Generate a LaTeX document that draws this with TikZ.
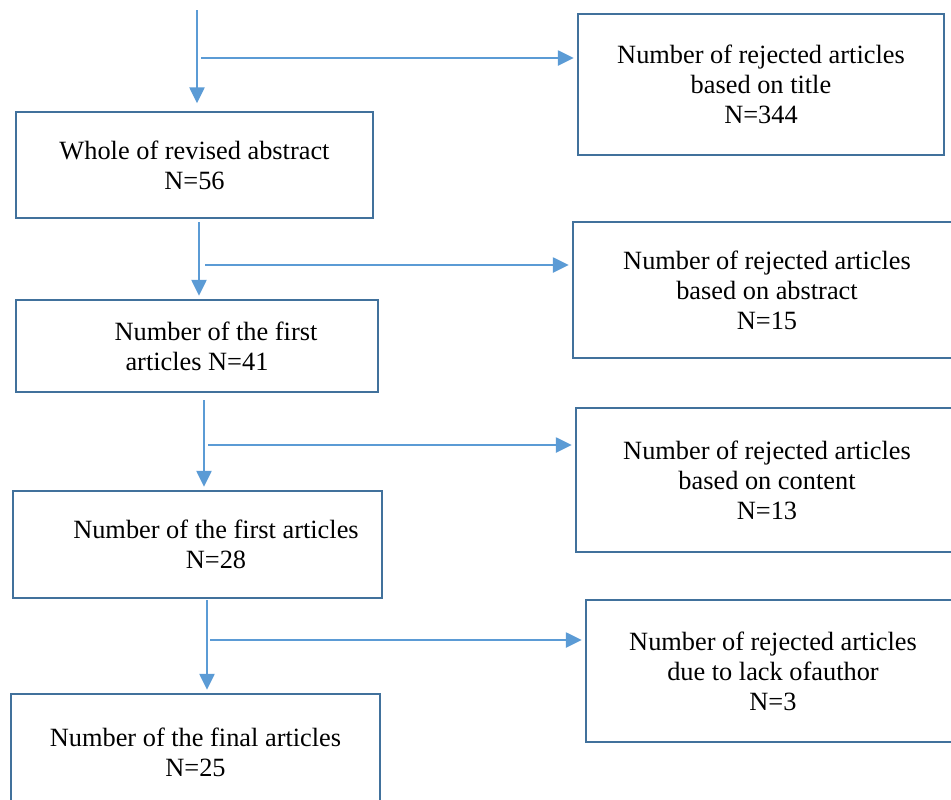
\documentclass[tikz,border=0pt]{standalone}
\usepackage{fontspec}
\setmainfont{Liberation Serif}
\usetikzlibrary{arrows.meta,calc}

\definecolor{arrowblue}{HTML}{5B9BD5}
\definecolor{boxblue}{HTML}{41719C}

\tikzset{
  stagebox/.style={draw=boxblue, line width=1.4pt, align=center, inner sep=0pt,
    font=\fontsize{15}{17}\selectfont},
  flowarr/.style={draw=arrowblue, line width=1.4pt, shorten >=0.06cm,
    -{Triangle[length=0.32cm,width=0.3cm]}}
}

\begin{document}
\begin{tikzpicture}[x=0.02cm,y=-0.02cm]
        \path[use as bounding box, clip] (0,0) rectangle (951,799);
        % left column
        \node[stagebox, minimum width=7.14cm, minimum height=2.12cm] (whole) at (194.5,165)
            {Whole of revised abstract\\N=56};
        \node[stagebox, minimum width=7.24cm, minimum height=1.84cm] (first) at (197,346)
            {\hspace*{0.76cm}Number of the first\\articles N=41};
        \node[stagebox, minimum width=7.38cm, minimum height=2.14cm] (second) at (197.5,544.5)
            {\hspace*{0.74cm}Number of the first articles\\\hspace*{0.74cm}N=28};
        \node[stagebox, minimum width=7.38cm, minimum height=2.32cm] (final) at (195.5,752)
            {Number of the final articles\\N=25};
        % right column
        \node[stagebox, minimum width=7.32cm, minimum height=2.82cm] (rejtitle) at (761,84.5)
            {Number of rejected articles\\based on title\\N=344};
        \node[stagebox, minimum width=7.76cm, minimum height=2.72cm] (rejabstract) at (767,290)
            {Number of rejected articles\\based on abstract\\N=15};
        \node[stagebox, minimum width=7.64cm, minimum height=2.88cm] (rejcontent) at (767,480)
            {Number of rejected articles\\based on content\\N=13};
        \node[stagebox, minimum width=7.48cm, minimum height=2.84cm] (rejauthor) at (773,671)
            {Number of rejected articles\\due to lack ofauthor\\N=3};
        % branch points
        \coordinate (v0) at (197,10);
        \coordinate (b1) at (201,58);
        \coordinate (v1) at (199,222);
        \coordinate (b2) at (205,265);
        \coordinate (v2) at (204,400);
        \coordinate (b3) at (208,445);
        \coordinate (v3) at (207,600);
        \coordinate (b4) at (210,640);
        % arrows
        \draw[flowarr, shorten >=0.15cm] (v0) -- (v0 |- whole.north);
        \draw[flowarr] (b1) -- (b1 -| rejtitle.west);
        \draw[flowarr] (v1) -- (v1 |- first.north);
        \draw[flowarr] (b2) -- (b2 -| rejabstract.west);
        \draw[flowarr] (v2) -- (v2 |- second.north);
        \draw[flowarr] (b3) -- (b3 -| rejcontent.west);
        \draw[flowarr] (v3) -- (v3 |- final.north);
        \draw[flowarr] (b4) -- (b4 -| rejauthor.west);
    \end{tikzpicture}
\end{document}
